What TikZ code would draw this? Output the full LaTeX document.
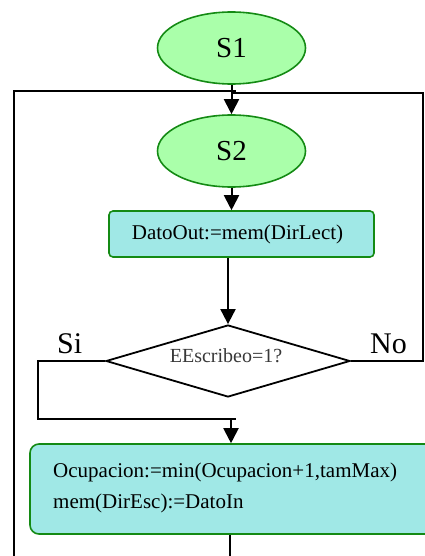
\documentclass[tikz,border=0pt]{standalone}
\usepackage{fontspec}
\setmainfont{Liberation Serif}
\usetikzlibrary{shapes.geometric,arrows.meta}
\definecolor{okfill}{HTML}{AAFFAA}
\definecolor{okline}{HTML}{148A14}
\definecolor{actfill}{HTML}{A0E8E6}
\definecolor{condtext}{HTML}{383838}
\tikzset{
  state/.style={ellipse, draw=okline, fill=okfill, line width=1.6pt,
    minimum width=148pt, minimum height=72pt, inner sep=0pt,
    font=\fontsize{29}{32}\selectfont},
  action/.style={rectangle, draw=okline, fill=actfill, line width=1.6pt,
    inner sep=0pt},
  decision/.style={diamond, draw=black, line width=1.8pt, aspect=3.4,
    minimum width=244pt, minimum height=72pt, inner sep=0pt},
  flow/.style={line width=2pt, draw=black},
  arrow/.style={flow, -{Triangle[width=15pt,length=15pt]}},
  branch/.style={font=\fontsize{30}{32}\selectfont, inner sep=0pt},
  body/.style={font=\fontsize{21}{24}\selectfont, inner sep=0pt}
}
\begin{document}
\begin{tikzpicture}[x=1pt, y=-1pt]
  \useasboundingbox (0,0) rectangle (425,556);
  \clip (0,0) rectangle (425,556);

  % states
  \node[state] (s1) at (231.5,48) {S1};
  \node[state] (s2) at (231.5,151) {S2};

  % read step
  \node[action, rounded corners=4pt, minimum width=265pt, minimum height=46pt]
    (rd) at (241.5,234) {};
  \node[body] (rdt) at (237.5,234) {DatoOut:=mem(DirLect)};

  % write condition
  \node[decision] (dc) at (228,361) {};
  \node[body, text=condtext, font=\fontsize{20}{24}\selectfont] (dct) at (226,356) {EEscribeo=1?};
  \node[branch, anchor=base west] (si) at (57,353) {Si};
  \node[branch, anchor=base west] (no) at (370,353) {No};

  % write step
  \node[action, rounded corners=9pt, minimum width=420pt, minimum height=90pt]
    (wr) at (240,489) {};
  \node[body, anchor=base west] (wr1) at (53,477) {Ocupacion:=min(Ocupacion+1,tamMax)};
  \node[body, anchor=base west] (wr2) at (53,508) {mem(DirEsc):=DatoIn};

  % routing points
  \coordinate (topL) at (14,91);
  \coordinate (topLend) at (236,91);
  \coordinate (botL) at (14,560);
  \coordinate (noR) at (423,361);
  \coordinate (noTop) at (423,93);
  \coordinate (noEnd) at (231.5,93);
  \coordinate (siL) at (38,361);
  \coordinate (siB) at (38,419);
  \coordinate (siEnd) at (236,419);
  \coordinate (jn) at (231,419);
  \coordinate (out) at (230,560);

  % connectors
  \draw[arrow] (s1.south) -- (s2.north);
  \draw[arrow] (s2.south) -- (s2.south |- rd.north);
  \draw[arrow] (dc.north |- rd.south) -- (dc.north);
  \draw[flow] (dc.east) -- (noR) -- (noTop) -- (noEnd);
  \draw[flow] (botL) -- (topL) -- (topLend);
  \draw[flow] (dc.west) -- (siL) -- (siB) -- (siEnd);
  \draw[arrow] (jn) -- (jn |- wr.north);
  \draw[flow] (out |- wr.south) -- (out);
\end{tikzpicture}
\end{document}
